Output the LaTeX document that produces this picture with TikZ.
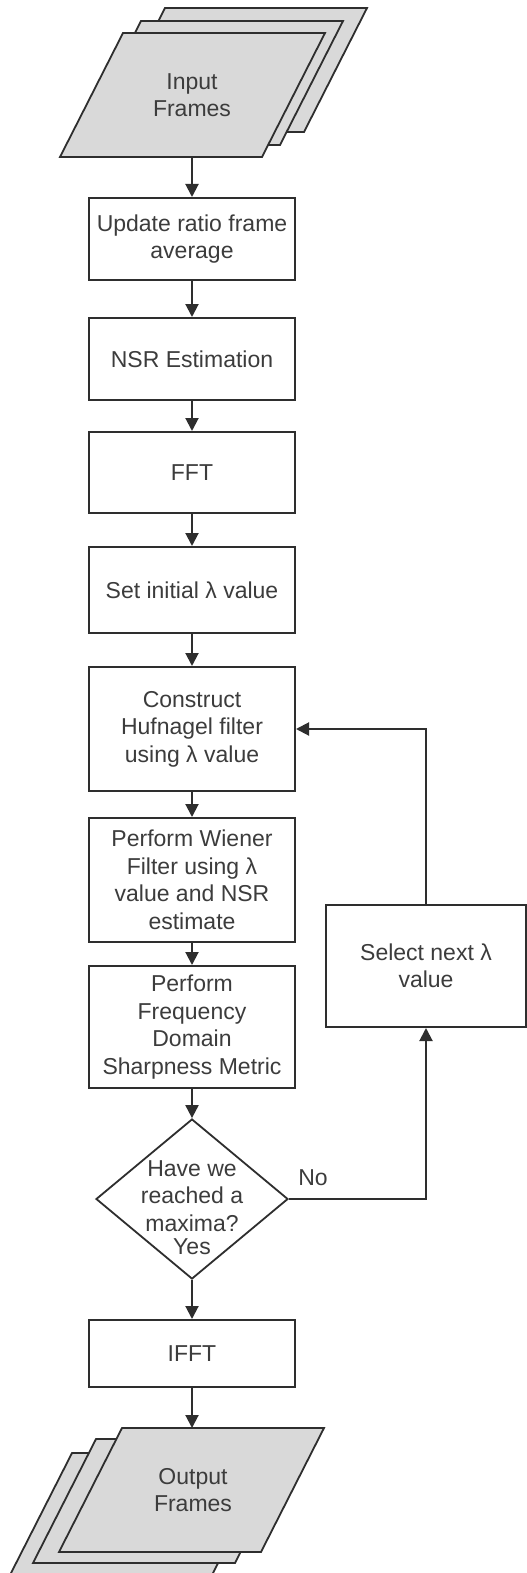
\documentclass[tikz,border=0pt]{standalone}
\usepackage{fontspec}
\setmainfont{Liberation Sans}
\usetikzlibrary{arrows.meta,shapes.geometric}
\definecolor{ink}{HTML}{2E2E2E}
\definecolor{txt}{HTML}{3C3C3C}
\definecolor{sheetfill}{HTML}{D9D9D9}
\tikzset{
  framesheet/.pic={
    \path[draw=ink, line width=1.8pt, fill=sheetfill, line join=miter]
      (63,0) -- (265,0) -- (202,124) -- (0,124) -- cycle;
  }
}
\begin{document}
\begin{tikzpicture}[x=1pt,y=-1pt,
  every node/.style={font=\fontsize{23}{27.5}\selectfont, text=txt},
  proc/.style={draw=ink, line width=2pt, fill=white, minimum width=206pt,
               inner sep=0pt, align=center},
  flow/.style={draw=ink, line width=2pt, -{Triangle[length=13pt,width=13pt]}},
  tag/.style={inner sep=0pt}
]
\useasboundingbox (0,0) rectangle (527,1573);

% input frames stack (back to front)
\pic at (102,8) {framesheet};
\pic at (78,21) {framesheet};
\pic at (60,33) {framesheet};
\node[align=center] (inp) at (192,95) {Input\\Frames};
\coordinate (inpb) at (192,157);

% main processing column
\node[proc, minimum height=82pt] (upd) at (192,239) {Update ratio frame\\average};
\node[proc, minimum height=82pt] (nsr) at (192,359) {NSR Estimation};
\node[proc, minimum height=81pt] (fft) at (192,472.5) {FFT};
\node[proc, minimum height=86pt] (setl) at (192,590) {Set initial λ value};
\node[proc, minimum height=124pt] (cons) at (192,729) {Construct\\Hufnagel filter\\using λ value};
\node[proc, minimum height=124pt] (wien) at (192,880) {Perform Wiener\\Filter using λ\\value and NSR\\estimate};
\node[proc, minimum height=122pt] (sharp) at (192,1027) {Perform\\Frequency\\Domain\\Sharpness Metric};

% decision
\node[diamond, draw=ink, line width=1.8pt, fill=white, inner sep=0pt,
      minimum width=192pt, minimum height=160pt] (dec) at (192,1199) {};
\node[tag, align=center] (dect) at (192,1196) {Have we\\reached a\\maxima?};
\node[tag] (yes) at (192,1247) {Yes};
\node[tag] (no) at (313,1178) {No};

\node[proc, minimum height=67pt] (ifft) at (192,1353.5) {IFFT};

% side branch
\node[proc, minimum width=200pt, minimum height=122pt] (sel) at (426,966) {Select next λ\\value};

% output frames stack (back to front)
\pic at (9,1453) {framesheet};
\pic at (33,1439) {framesheet};
\pic at (59,1428) {framesheet};
\node[align=center] (outp) at (193,1490) {Output\\Frames};
\coordinate (outt) at (192,1428);

% connectors
\draw[flow] (inpb) -- (upd.north);
\draw[flow] (upd) -- (nsr);
\draw[flow] (nsr) -- (fft);
\draw[flow] (fft) -- (setl);
\draw[flow] (setl) -- (cons);
\draw[flow] (cons) -- (wien);
\draw[flow] (wien) -- (sharp);
\draw[flow] (sharp.south) -- (dec.north);
\draw[flow] (dec.south) -- (ifft.north);
\draw[flow] (ifft.south) -- (outt);
\draw[flow] (dec.east) -| (sel.south);
\draw[flow] (sel.north) |- (cons.east);
\end{tikzpicture}
\end{document}
